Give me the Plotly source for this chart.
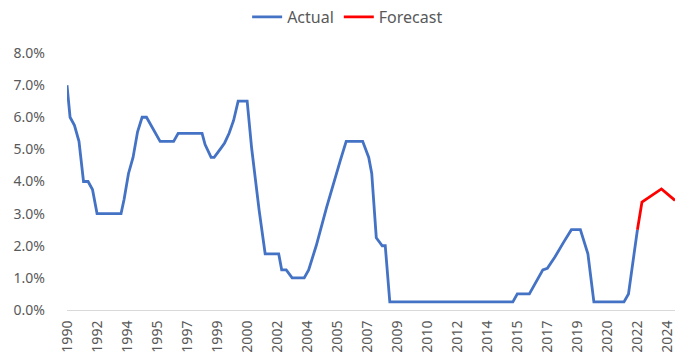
import pandas as pd
import plotly.graph_objects as go

# Policy rate history (%), knots of the monthly line
actual_dates = [
    "1990-12", "1991-02", "1991-05", "1991-08", "1991-11", "1992-02", "1992-05", "1992-08",
    "1993-12", "1994-02", "1994-05", "1994-08", "1994-11", "1995-02", "1995-05", "1996-02",
    "1996-11", "1997-02", "1998-06", "1998-08", "1998-12", "1999-02", "1999-06", "1999-09",
    "1999-12", "2000-03", "2000-06", "2000-12", "2001-03", "2001-06", "2001-08", "2001-12",
    "2002-09", "2002-11", "2003-02", "2003-06", "2004-02", "2004-05", "2004-10", "2005-05",
    "2005-10", "2006-02", "2006-06", "2007-05", "2007-09", "2007-11", "2008-02", "2008-06",
    "2008-08", "2008-11", "2015-09", "2015-12", "2016-08", "2017-05", "2017-08", "2018-01",
    "2018-07", "2018-12", "2019-06", "2019-09", "2019-11", "2020-03", "2021-11", "2022-02",
    "2022-08",
]
actual_values = [
    7.00, 6.00, 5.75, 5.25, 4.00, 4.00, 3.75, 3.00,
    3.00, 3.45, 4.25, 4.75, 5.55, 6.00, 6.00, 5.25,
    5.25, 5.50, 5.50, 5.15, 4.75, 4.75, 5.00, 5.20,
    5.50, 5.90, 6.50, 6.50, 5.05, 3.80, 3.10, 1.75,
    1.75, 1.25, 1.25, 1.00, 1.00, 1.25, 2.00, 3.20,
    4.05, 4.65, 5.25, 5.25, 4.75, 4.25, 2.25, 2.00,
    2.00, 0.25, 0.25, 0.50, 0.50, 1.25, 1.30, 1.65,
    2.12, 2.50, 2.50, 2.00, 1.75, 0.25, 0.25, 0.50,
    2.50,
]

# Projected path
forecast_dates = ["2022-08", "2022-11", "2023-12", "2024-09"]
forecast_values = [2.50, 3.36, 3.77, 3.41]

y_ticks = [0, 1, 2, 3, 4, 5, 6, 7, 8]
y_tick_text = [f"{v:.1f}%" for v in y_ticks]

# Year labels every 20 months along the time axis
tick_dates = pd.date_range("1990-12-01", periods=21, freq="20MS")
tick_text = [str(d.year) for d in tick_dates]

grey = "#595959"
font_family = "Noto Sans, Liberation Sans, sans-serif"

fig = go.Figure()
fig.add_trace(go.Scatter(
    x=pd.to_datetime(actual_dates), y=actual_values, mode="lines", name="Actual",
    line=dict(color="#4472C4", width=2.8),
))
fig.add_trace(go.Scatter(
    x=pd.to_datetime(forecast_dates), y=forecast_values, mode="lines", name="Forecast",
    line=dict(color="#FF0000", width=2.8),
))

fig.update_layout(
    width=675, height=364,
    margin=dict(l=67, r=0, t=53, b=54),
    paper_bgcolor="white", plot_bgcolor="white",
    font=dict(family=font_family, size=13, color=grey),
    showlegend=True,
    legend=dict(
        orientation="h", xref="container", yref="container",
        x=0.515, xanchor="center", y=1.0, yanchor="top",
        font=dict(size=16, color=grey), itemwidth=30,
        bgcolor="rgba(0,0,0,0)",
    ),
    xaxis=dict(
        type="date",
        range=[pd.Timestamp("1990-12-01"), pd.Timestamp("2024-09-01")],
        tickmode="array", tickvals=tick_dates, ticktext=tick_text,
        tickangle=-90, ticks="", showgrid=False, zeroline=False,
        showline=True, linecolor="#D9D9D9", linewidth=1,
        tickfont=dict(size=14, color=grey),
        ticklabeloverflow="allow",
        ticklabelstandoff=4,
    ),
    yaxis=dict(
        range=[0, 8], tickmode="array", tickvals=y_ticks, ticktext=y_tick_text,
        showgrid=False, zeroline=False, showline=False, ticks="",
        tickfont=dict(size=14, color=grey),
        ticklabelstandoff=21,
    ),
)

fig.write_html("out.html")
